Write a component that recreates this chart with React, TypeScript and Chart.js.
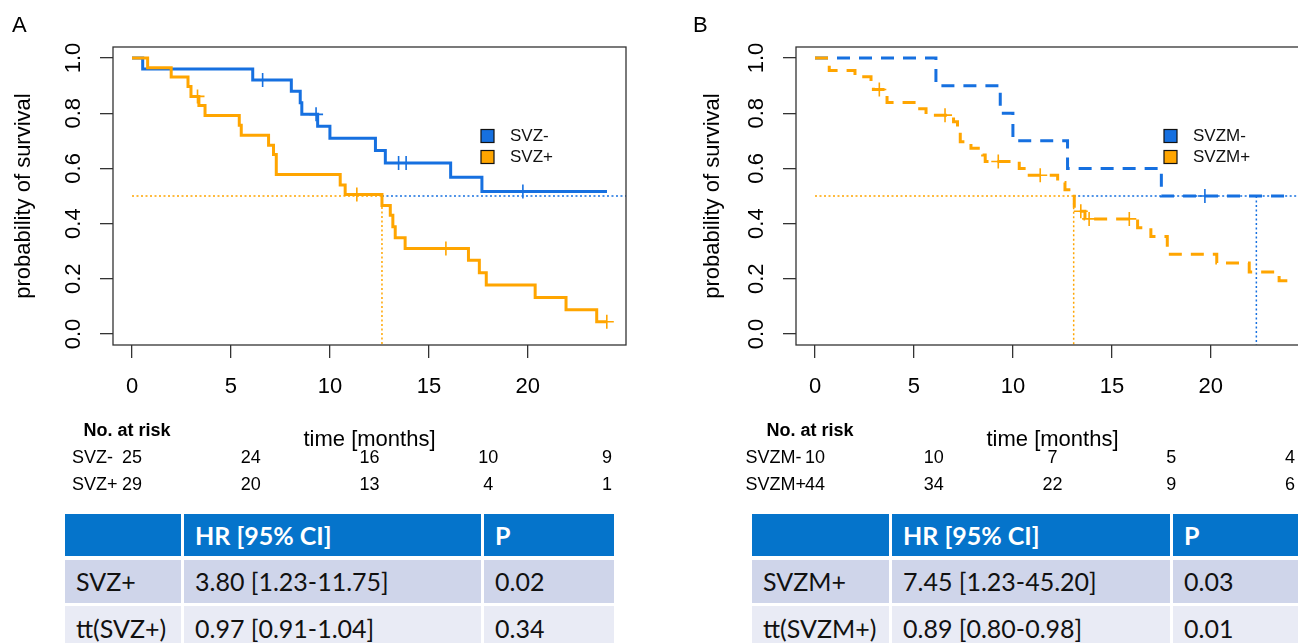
import React, { useEffect, useRef } from 'react';
import { Chart, registerables } from 'chart.js';

Chart.register(...registerables);

const BLUE = '#1670e0';
const ORANGE = '#ffa500';
const FONT = '"Liberation Sans", Arial, Helvetica, sans-serif';
const TABLE_FONT = 'Lato, "Noto Sans", sans-serif';

const X_MIN = -0.96;
const X_MAX = 24.96;
const Y_MIN = -0.04;
const Y_MAX = 1.04;

const xTickValues = [0, 5, 10, 15, 20];
const yTickValues = [0, 0.2, 0.4, 0.6, 0.8, 1.0];
const riskTimes = [0, 6, 12, 18, 24];

// ---------- Panel A ----------
const svzNegTimes = [0, 0.54, 6.1, 8.05, 8.5, 8.58, 9.38, 10.0, 12.3, 12.8, 16.1, 17.68, 24.0];
const svzNegSurv = [1, 0.96, 0.92, 0.88, 0.838, 0.796, 0.753, 0.709, 0.665, 0.62, 0.568, 0.516, 0.516];
const svzNegCensorTimes = [6.6, 9.3, 13.47, 13.85, 19.75];
const svzNegCensorSurv = [0.92, 0.796, 0.62, 0.62, 0.516];

const svzPosTimes = [0, 0.79, 1.98, 2.83, 2.98, 3.38, 3.69, 5.42, 5.52, 6.9, 7.15, 7.29, 10.52, 10.77, 12.63, 13.05, 13.18, 13.3, 13.8, 17.0, 17.55, 17.9, 20.37, 21.93, 23.48, 24.0];
const svzPosSurv = [1, 0.965, 0.931, 0.897, 0.861, 0.828, 0.792, 0.756, 0.72, 0.684, 0.65, 0.578, 0.54, 0.505, 0.466, 0.43, 0.389, 0.349, 0.31, 0.267, 0.222, 0.177, 0.132, 0.088, 0.044, 0.044];
const svzPosCensorTimes = [3.31, 11.36, 15.86, 23.99];
const svzPosCensorSurv = [0.861, 0.505, 0.31, 0.044];

const medianSvzPos = 12.63;
const riskSvzNeg = [25, 24, 16, 10, 9];
const riskSvzPos = [29, 20, 13, 4, 1];

// ---------- Panel B ----------
const svzmNegTimes = [0, 6.11, 9.36, 10.0, 12.76, 17.5, 24.0];
const svzmNegSurv = [1, 0.9, 0.8, 0.7, 0.6, 0.5, 0.5];
const svzmNegCensorTimes = [19.7];
const svzmNegCensorSurv = [0.5];

const svzmPosTimes = [0, 0.72, 2.02, 2.83, 2.95, 3.64, 5.29, 5.61, 7.0, 7.2, 7.34, 7.88, 8.47, 8.6, 10.32, 10.74, 12.26, 12.63, 13.1, 13.64, 16.3, 16.97, 17.8, 20.3, 21.94, 23.45, 24.0];
const svzmPosSurv = [1, 0.955, 0.932, 0.909, 0.886, 0.839, 0.816, 0.793, 0.769, 0.745, 0.697, 0.673, 0.649, 0.625, 0.6, 0.575, 0.549, 0.523, 0.445, 0.417, 0.385, 0.353, 0.289, 0.257, 0.225, 0.193, 0.193];
const svzmPosCensorTimes = [3.25, 6.57, 9.26, 11.38, 13.43, 13.85, 15.88];
const svzmPosCensorSurv = [0.886, 0.793, 0.625, 0.575, 0.445, 0.417, 0.417];

const medianSvzmPos = 13.07;
const medianSvzmNeg = 22.3;
const riskSvzmNeg = [10, 10, 7, 5, 4];
const riskSvzmPos = [44, 34, 22, 9, 6];

// ---------- HR tables ----------
const tableHeader = ['', 'HR [95% CI]', 'P'];
const tableARow1 = ['SVZ+', '3.80 [1.23-11.75]', '0.02'];
const tableARow2 = ['tt(SVZ+)', '0.97 [0.91-1.04]', '0.34'];
const tableBRow1 = ['SVZM+', '7.45 [1.23-45.20]', '0.03'];
const tableBRow2 = ['tt(SVZM+)', '0.89 [0.80-0.98]', '0.01'];

type Curve = {
  label: string;
  color: string;
  times: number[];
  surv: number[];
  censorTimes: number[];
  censorSurv: number[];
};

type PanelCfg = {
  letter: string;
  letterX: number;
  left: number;
  titlePad: number;
  dashed: boolean;
  neg: Curve;
  pos: Curve;
  medianPos: number;
  medianNeg: number | null;
  riskLabelX: number;
  riskNegName: string;
  riskPosName: string;
  riskNeg: number[];
  riskPos: number[];
};

const pts = (xs: number[], ys: number[]) => xs.map((x, i) => ({ x, y: ys[i] }));

const kmPlugin = {
  id: 'kmExtras',
  afterDraw(chart: any, _args: any, opts: any) {
    const { ctx, chartArea: ca, scales } = chart;
    const xs = scales.x;
    ctx.save();
    // box
    ctx.strokeStyle = '#333';
    ctx.lineWidth = 1.3;
    ctx.strokeRect(ca.left, ca.top, ca.right - ca.left, ca.bottom - ca.top);

    // panel letter
    ctx.fillStyle = '#000';
    ctx.font = `22px ${FONT}`;
    ctx.textAlign = 'left';
    ctx.textBaseline = 'alphabetic';
    ctx.fillText(opts.letter, opts.letterX, 32);

    // legend
    const items = opts.legend as { label: string; color: string }[];
    items.forEach((it, i) => {
      const y = 136 + i * 21;
      const x = ca.left + 368;
      ctx.fillStyle = it.color;
      ctx.fillRect(x, y - 6.5, 13, 13);
      ctx.strokeStyle = '#111';
      ctx.lineWidth = 1.2;
      ctx.strokeRect(x, y - 6.5, 13, 13);
      ctx.fillStyle = '#111';
      ctx.font = `17px ${FONT}`;
      ctx.textBaseline = 'middle';
      ctx.fillText(it.label, x + 29, y);
    });

    // risk table
    ctx.fillStyle = '#000';
    ctx.textBaseline = 'middle';
    ctx.font = `bold 18px ${FONT}`;
    ctx.textAlign = 'center';
    ctx.fillText('No. at risk', xs.getPixelForValue(0) - 5, 431);
    ctx.font = `18px ${FONT}`;
    const rows = opts.risk as { name: string; values: number[]; y: number }[];
    rows.forEach((row) => {
      ctx.textAlign = 'left';
      ctx.fillText(row.name, opts.riskLabelX, row.y);
      ctx.textAlign = 'center';
      row.values.forEach((v, j) => {
        ctx.fillText(String(v), xs.getPixelForValue(riskTimes[j]), row.y);
      });
    });
    ctx.restore();
  },
};

function buildConfig(cfg: PanelCfg): any {
  const dash = cfg.dashed ? [13, 9] : [];
  const dot = [2, 2.5];
  const curveDs = (c: Curve) => ({
    label: c.label,
    data: pts(c.times, c.surv),
    borderColor: c.color,
    backgroundColor: c.color,
    borderWidth: 3,
    borderDash: dash,
    stepped: true,
    pointRadius: 0,
    fill: false,
  });
  const censorDs = (c: Curve) => ({
    label: c.label + ' censored',
    data: pts(c.censorTimes, c.censorSurv),
    showLine: false,
    pointStyle: 'cross',
    pointRadius: 7,
    pointBorderWidth: 1.6,
    pointBorderColor: c.color,
    borderColor: c.color,
    backgroundColor: c.color,
  });
  const datasets: any[] = [
    curveDs(cfg.pos),
    censorDs(cfg.pos),
    curveDs(cfg.neg),
    censorDs(cfg.neg),
    {
      data: [
        { x: 0, y: 0.5 },
        { x: cfg.medianPos, y: 0.5 },
        { x: cfg.medianPos, y: Y_MIN },
      ],
      borderColor: cfg.pos.color,
      borderWidth: 1.5,
      borderDash: dot,
      pointRadius: 0,
    },
    {
      data: [
        { x: cfg.medianPos, y: 0.5 },
        { x: X_MAX, y: 0.5 },
      ],
      borderColor: cfg.neg.color,
      borderWidth: 1.5,
      borderDash: dot,
      pointRadius: 0,
    },
  ];
  if (cfg.medianNeg !== null) {
    datasets.push({
      data: [
        { x: cfg.medianNeg, y: 0.5 },
        { x: cfg.medianNeg, y: Y_MIN },
      ],
      borderColor: cfg.neg.color,
      borderWidth: 1.5,
      borderDash: dot,
      pointRadius: 0,
    });
  }
  const tickFont = { family: FONT, size: 22 };
  return {
    type: 'line',
    data: { datasets },
    plugins: [kmPlugin],
    options: {
      animation: false,
      responsive: false,
      devicePixelRatio: 1,
      events: [],
      layout: { padding: { left: 0, top: 47, right: 14, bottom: 46.8 } },
      plugins: {
        legend: { display: false },
        tooltip: { enabled: false },
        kmExtras: {
          letter: cfg.letter,
          letterX: cfg.letterX,
          legend: [
            { label: cfg.neg.label, color: cfg.neg.color },
            { label: cfg.pos.label, color: cfg.pos.color },
          ],
          riskLabelX: cfg.riskLabelX,
          risk: [
            { name: cfg.riskNegName, values: cfg.riskNeg, y: 458 },
            { name: cfg.riskPosName, values: cfg.riskPos, y: 485 },
          ],
        },
      },
      scales: {
        x: {
          type: 'linear',
          min: X_MIN,
          max: X_MAX,
          bounds: 'data',
          afterBuildTicks: (s: any) => {
            s.ticks = xTickValues.map((v) => ({ value: v }));
          },
          afterFit: (s: any) => {
            s.height = 108.2;
          },
          ticks: {
            autoSkip: false,
            maxRotation: 0,
            minRotation: 0,
            padding: 15.5,
            color: '#000',
            font: tickFont,
            callback: (v: any) => String(v),
          },
          grid: { drawOnChartArea: false, tickLength: 13, color: '#333', lineWidth: 1.3 },
          border: { display: false },
          title: {
            display: true,
            text: 'time [months]',
            color: '#000',
            font: tickFont,
            padding: { top: 0, bottom: 0 },
          },
        },
        y: {
          type: 'linear',
          min: Y_MIN,
          max: Y_MAX,
          bounds: 'data',
          afterBuildTicks: (s: any) => {
            s.ticks = yTickValues.map((v) => ({ value: v }));
          },
          afterFit: (s: any) => {
            s.width = 113;
          },
          ticks: {
            autoSkip: false,
            minRotation: 90,
            maxRotation: 90,
            crossAlign: 'center',
            padding: 10.7,
            color: '#000',
            font: tickFont,
            callback: (v: any) => Number(v).toFixed(1),
          },
          grid: { drawOnChartArea: false, tickLength: 13, color: '#333', lineWidth: 1.3 },
          border: { display: false },
          title: {
            display: true,
            text: 'probability of survival',
            color: '#000',
            font: tickFont,
            padding: { top: cfg.titlePad, bottom: 0 },
          },
        },
      },
    },
  };
}

const panelA: PanelCfg = {
  letter: 'A',
  letterX: 12,
  left: 0,
  titlePad: 10.8,
  dashed: false,
  neg: { label: 'SVZ-', color: BLUE, times: svzNegTimes, surv: svzNegSurv, censorTimes: svzNegCensorTimes, censorSurv: svzNegCensorSurv },
  pos: { label: 'SVZ+', color: ORANGE, times: svzPosTimes, surv: svzPosSurv, censorTimes: svzPosCensorTimes, censorSurv: svzPosCensorSurv },
  medianPos: medianSvzPos,
  medianNeg: null,
  riskLabelX: 72,
  riskNegName: 'SVZ-',
  riskPosName: 'SVZ+',
  riskNeg: riskSvzNeg,
  riskPos: riskSvzPos,
};

const panelB: PanelCfg = {
  letter: 'B',
  letterX: 10,
  left: 683,
  titlePad: 16.8,
  dashed: true,
  neg: { label: 'SVZM-', color: BLUE, times: svzmNegTimes, surv: svzmNegSurv, censorTimes: svzmNegCensorTimes, censorSurv: svzmNegCensorSurv },
  pos: { label: 'SVZM+', color: ORANGE, times: svzmPosTimes, surv: svzmPosSurv, censorTimes: svzmPosCensorTimes, censorSurv: svzmPosCensorSurv },
  medianPos: medianSvzmPos,
  medianNeg: medianSvzmNeg,
  riskLabelX: 62.5,
  riskNegName: 'SVZM-',
  riskPosName: 'SVZM+',
  riskNeg: riskSvzmNeg,
  riskPos: riskSvzmPos,
};

function KMPanel({ cfg }: { cfg: PanelCfg }) {
  const ref = useRef<HTMLCanvasElement>(null);
  useEffect(() => {
    if (!ref.current) return;
    const chart = new Chart(ref.current, buildConfig(cfg));
    return () => chart.destroy();
  }, [cfg]);
  return (
    <canvas
      ref={ref}
      width={640}
      height={500}
      style={{ position: 'absolute', left: cfg.left, top: 0, width: 640, height: 500 }}
    />
  );
}

function HRTable({ left, cols, rows }: { left: number; cols: number[]; rows: string[][] }) {
  const bgs = ['#0574cb', '#cfd5ea', '#e9ebf5'];
  return (
    <div
      style={{
        position: 'absolute',
        left,
        top: 514,
        display: 'grid',
        gridTemplateColumns: cols.map((c) => c + 'px').join(' '),
        gridTemplateRows: '42px 43px 43px',
        columnGap: 3,
        rowGap: 3.5,
        fontFamily: TABLE_FONT,
        fontSize: 25,
      }}
    >
      {rows.map((row, ri) =>
        row.map((cell, ci) => (
          <div
            key={ri + '-' + ci}
            style={{
              background: bgs[ri],
              color: ri === 0 ? '#fff' : '#111',
              fontWeight: ri === 0 ? 700 : 400,
              display: 'flex',
              alignItems: 'center',
              paddingLeft: 11,
              whiteSpace: 'nowrap',
              overflow: 'hidden',
            }}
          >
            {cell}
          </div>
        ))
      )}
    </div>
  );
}

export default function App() {
  return (
    <div
      style={{
        position: 'fixed',
        left: 0,
        top: 0,
        width: 1298,
        height: 643,
        overflow: 'hidden',
        background: '#fff',
      }}
    >
      <KMPanel cfg={panelA} />
      <KMPanel cfg={panelB} />
      <HRTable left={65} cols={[116, 297, 130]} rows={[tableHeader, tableARow1, tableARow2]} />
      <HRTable left={752} cols={[137, 278, 130]} rows={[tableHeader, tableBRow1, tableBRow2]} />
    </div>
  );
}
